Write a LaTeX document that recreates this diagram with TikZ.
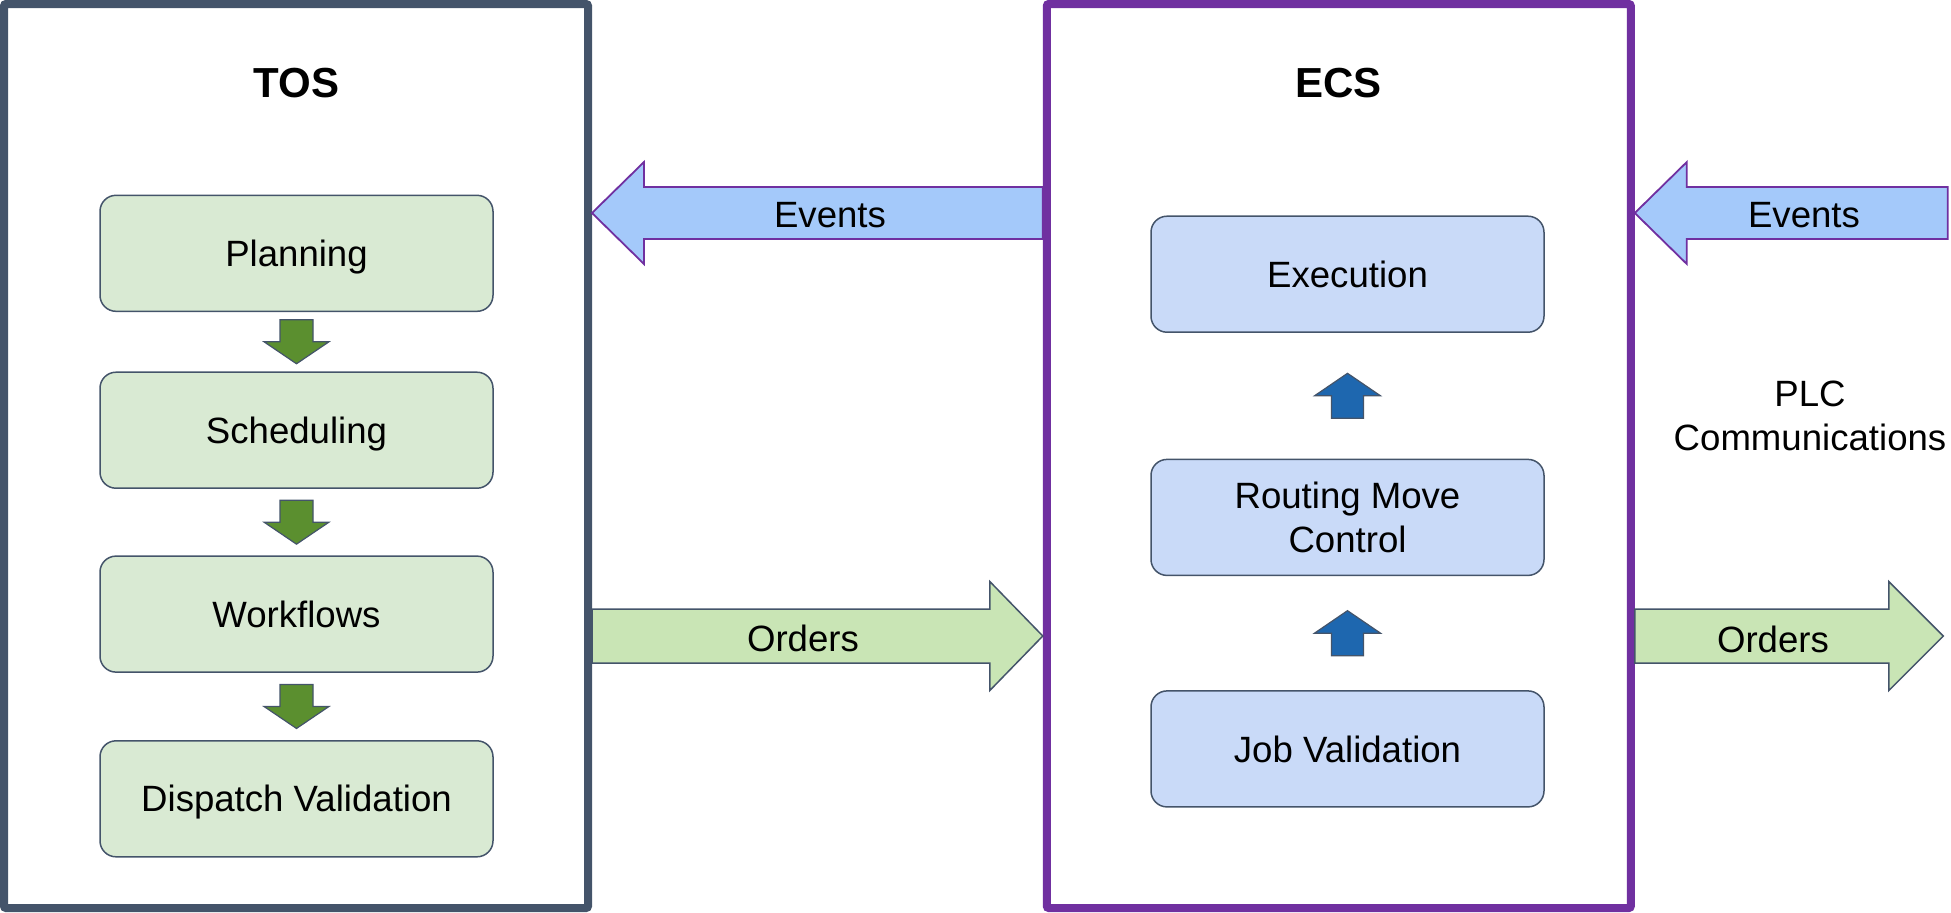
\documentclass[tikz,border=0pt]{standalone}
\usepackage{fontspec}
\setmainfont{Liberation Sans}
\usetikzlibrary{positioning,calc}

\definecolor{slate}{HTML}{44546A}
\definecolor{purple}{HTML}{7030A0}
\definecolor{tosfill}{HTML}{D9EAD3}
\definecolor{ecsfill}{HTML}{C9DAF8}
\definecolor{stepgreen}{HTML}{5B8F2F}
\definecolor{stepblue}{HTML}{1E67AF}
\definecolor{eventfill}{HTML}{A4C9FA}
\definecolor{orderfill}{HTML}{C9E5B5}

\begin{document}
\begin{tikzpicture}[
    x=0.5pt, y=-0.5pt,
    sysframe/.style={rectangle, line width=4pt, rounded corners=1pt, minimum width=292pt, minimum height=452pt},
    systitle/.style={font=\fontsize{21}{25}\selectfont\bfseries, text height=15pt, text depth=0pt},
    box/.style={rectangle, draw=slate, line width=0.75pt, rounded corners=8pt, minimum width=196.5pt, minimum height=58pt, align=center, font=\fontsize{18.3}{22}\selectfont},
    onerow/.style={text height=13.1pt, text depth=0pt},
    tosbox/.style={box, fill=tosfill, onerow},
    ecsbox/.style={box, fill=ecsfill},
    flowtext/.style={align=center, font=\fontsize{18.3}{22}\selectfont},
    greenstep/.style={draw=slate, line width=0.6pt, fill=stepgreen},
    bluestep/.style={draw=slate, line width=0.6pt, fill=stepblue},
    eventarrow/.style={draw=purple, line width=0.9pt, fill=eventfill},
    orderarrow/.style={draw=slate, line width=0.75pt, fill=orderfill}
]
    \useasboundingbox (0,0) rectangle (1951,912);

    % the two systems
    \node[sysframe, draw=slate] (tos) at (296,456) {};
    \node[sysframe, draw=purple] (ecs) at (1338.8,456) {};
    \node[systitle] (tostitle) at (296.5,82) {TOS};
    \node[systitle] (ecstitle) at (1338.5,82.5) {ECS};

    % TOS chain
    \node[tosbox] (planning) at (296.5,253.3) {Planning};
    \node[tosbox, below=29.7pt of planning] (scheduling) {Scheduling};
    \node[tosbox, below=33.2pt of scheduling] (workflows) {Workflows};
    \node[tosbox, below=33.6pt of workflows] (dispatch) {Dispatch Validation};

    \foreach \a/\b in {planning/scheduling, scheduling/workflows, workflows/dispatch}
        \draw[greenstep] ($(\a.south)!0.5!(\b.north)$) ++(-16.5,-22) -- ++(33,0) -- ++(0,22) -- ++(16,0) -- ++(-32.5,22) -- ++(-32.5,-22) -- ++(16,0) -- cycle;

    % ECS chain
    \node[ecsbox, onerow] (execution) at (1347.5,274.2) {Execution};
    \node[ecsbox, below=62.85pt of execution] (routing) {Routing Move\\Control};
    \node[ecsbox, onerow, below=57pt of routing] (jobval) {Job Validation};

    \foreach \a/\b in {routing/execution, jobval/routing}
        \draw[bluestep] ($(\a.north)!0.5!(\b.south)$) ++(-16,22.5) -- ++(32,0) -- ++(0,-22.5) -- ++(17,0) -- ++(-33,-22.5) -- ++(-33,22.5) -- ++(17,0) -- cycle;

    % events and orders between the systems
    \draw[eventarrow] (tos.east |- 0,213) -- ++(52,-51) -- ++(0,25) -- (ecs.west |- 0,187) -- (ecs.west |- 0,239) -- ($(tos.east |- 0,239)+(52,0)$) -- ++(0,25) -- cycle;
    \draw[orderarrow] (tos.east |- 0,609) -- ($(ecs.west |- 0,609)+(-53,0)$) -- ++(0,-27.5) -- ++(53,54.5) -- ++(-53,54.5) -- ++(0,-27.5) -- (tos.east |- 0,663) -- cycle;
    \node[flowtext] (events1) at (830,215) {Events};
    \node[flowtext] (orders1) at (803,638) {Orders};

    % PLC side
    \draw[eventarrow] (ecs.east |- 0,213) -- ++(52,-51) -- ++(0,25) -- ++(261,0) -- ++(0,52) -- ++(-261,0) -- ++(0,25) -- cycle;
    \draw[orderarrow] (ecs.east |- 0,609) -- ++(254,0) -- ++(0,-27.5) -- ++(54.5,54.5) -- ++(-54.5,54.5) -- ++(0,-27.5) -- ++(-254,0) -- cycle;
    \node[flowtext] (events2) at (1804,215) {Events};
    \node[flowtext] (orders2) at (1773,639) {Orders};
    \node[flowtext] (plc) at (1810,415.5) {PLC\\Communications};
\end{tikzpicture}
\end{document}
